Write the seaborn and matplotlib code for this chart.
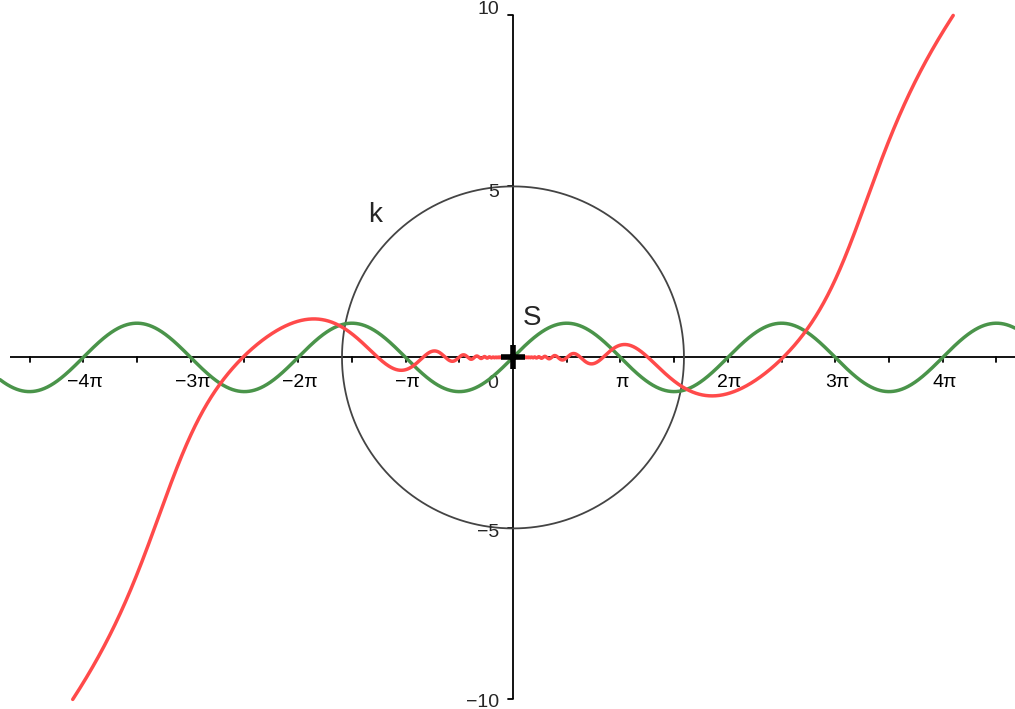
import numpy as np
import pandas as pd
import matplotlib
matplotlib.use("Agg")
import matplotlib.pyplot as plt
import seaborn as sns

# --- chart content -------------------------------------------------------
# x-axis tick labels at integer multiples of pi
pi_multiples = [-4, -3, -2, -1, 1, 2, 3, 4]
pi_labels = ["\u22124\u03c0", "\u22123\u03c0", "\u22122\u03c0", "\u2212\u03c0",
             "\u03c0", "2\u03c0", "3\u03c0", "4\u03c0"]
y_ticks = [-10, -5, 5, 10]
y_labels = ["\u221210", "\u22125", "5", "10"]

# circle k: centre S and radius
circle_center = (0.0, 0.0)
circle_radius = 5.0

# red curve  f(x) = A(|x|) * sin(c / x),
# with envelope A(x) = p*x^2 + e_height / (1 + exp(-(x - e_mid) / e_width))
f_c = 7.9 * np.pi
f_p = 0.0365
e_height = 4.7
e_mid = 10.0
e_width = 0.7
f_limit = 10.0          # the curve is shown only for |f(x)| <= 10

# --- view ----------------------------------------------------------------
X_MIN, X_MAX = -15.0, 14.68
Y_MIN, Y_MAX = -10.28, 10.45
UNIT_PX = 34.2

sns.set_style("white")
plt.rcParams["font.family"] = ["Liberation Sans", "DejaVu Sans"]

fig = plt.figure(figsize=(10.15, 7.09), dpi=100)
ax = fig.add_axes([0, 0, 1, 1])
ax.set_xlim(X_MIN, X_MAX)
ax.set_ylim(Y_MIN, Y_MAX)
for s in ax.spines.values():
    s.set_visible(False)
ax.set_xticks([])
ax.set_yticks([])

# axes through the origin
ax.plot([X_MIN + 10 / UNIT_PX, X_MAX], [0, 0], color="black", lw=1.3,
        zorder=1, solid_capstyle="butt")
ax.plot([0, 0], [-10, 10], color="black", lw=1.3, zorder=1,
        solid_capstyle="butt")
# x ticks every pi/2 (pointing down), y ticks every 5 (pointing left)
tick_len = 5 / UNIT_PX
for k in range(-9, 10):
    if k == 0:
        continue
    xt = k * np.pi / 2
    ax.plot([xt, xt], [0, -tick_len], color="black", lw=1.3, zorder=1)
for yt in y_ticks:
    ax.plot([-tick_len, 0], [yt, yt], color="black", lw=1.3, zorder=1)

# tick labels
for m, lab in zip(pi_multiples, pi_labels):
    ax.text(m * np.pi + 0.05, -0.87, lab, ha="center", va="baseline",
            fontsize=14, color="black")
ax.text(-0.43, -0.9, "0", ha="right", va="baseline", fontsize=14)
y_label_base = {-10: -10.22, -5: -5.26, 5: 4.69, 10: 10.05}
for yt, lab in zip(y_ticks, y_labels):
    ax.text(-0.4, y_label_base[yt], lab, ha="right", va="baseline",
            fontsize=14)

# green curve: sin(x)
xg = np.linspace(X_MIN, X_MAX, 3000)
green = pd.DataFrame({"x": xg, "y": np.sin(xg)})
sns.lineplot(data=green, x="x", y="y", color="#4a944a", lw=2.5,
             ax=ax, zorder=3)

# red curve
xr = np.concatenate([np.linspace(X_MIN, -1e-3, 30000),
                     np.linspace(1e-3, X_MAX, 30000)])
ax_abs = np.abs(xr)
env = f_p * ax_abs**2 + e_height / (1 + np.exp(-(ax_abs - e_mid) / e_width))
yr = env * np.sin(f_c / xr)
keep = np.abs(yr) <= f_limit
red = pd.DataFrame({"x": xr[keep], "y": yr[keep]})
sns.lineplot(data=red, x="x", y="y", color="#ff4a4a", lw=2.5,
             ax=ax, zorder=4, estimator=None, sort=True)

# circle k
t = np.linspace(0, 2 * np.pi, 721)
circ = pd.DataFrame({"x": circle_center[0] + circle_radius * np.cos(t),
                     "y": circle_center[1] + circle_radius * np.sin(t)})
sns.lineplot(data=circ, x="x", y="y", sort=False, estimator=None,
             color="#444444", lw=1.3, ax=ax, zorder=2)
ax.text(-4.25, 4.15, "k", fontsize=20, ha="left", va="center")

# point S
sns.scatterplot(x=[circle_center[0]], y=[circle_center[1]], marker="+",
                s=280, linewidth=4, color="black", ax=ax, zorder=6)
ax.text(0.3, 1.15, "S", fontsize=20, ha="left", va="center")

ax.set_xlabel("")
ax.set_ylabel("")
fig.savefig("out.png", dpi=100)
